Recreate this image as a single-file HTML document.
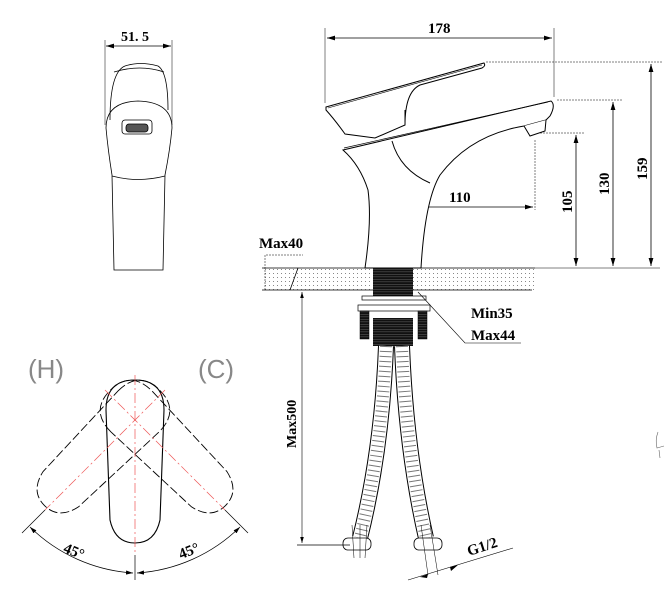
<!DOCTYPE html>
<html><head><meta charset="utf-8"><style>
html,body{margin:0;padding:0;background:#fff;}
svg{display:block;}
text{font-family:"Liberation Serif","DejaVu Serif",serif;fill:#000;font-weight:bold;}
</style></head><body>
<svg width="666" height="604" viewBox="0 0 666 604" xmlns="http://www.w3.org/2000/svg">
<defs>
<marker id="a" viewBox="0 0 10 6" refX="10" refY="3" markerWidth="10" markerHeight="6" orient="auto-start-reverse"><path d="M0,0 L10,3 L0,6z" fill="#000"/></marker>
<pattern id="dots" width="4" height="4" patternUnits="userSpaceOnUse"><rect x="1" y="1" width="1" height="1" fill="#888"/></pattern>
<pattern id="thr" width="6" height="2.5" patternUnits="userSpaceOnUse"><rect width="6" height="2.5" fill="#111"/><rect y="1.6" width="6" height="0.5" fill="#666"/></pattern>
</defs>

<!-- FRONT VIEW -->
<g fill="none" stroke="#000" stroke-width="0.8">
<line x1="105" y1="40" x2="105" y2="125" stroke-width="0.5"/>
<line x1="172" y1="40" x2="172" y2="125" stroke-width="0.5"/>
<line x1="106" y1="46" x2="171" y2="46" marker-start="url(#a)" marker-end="url(#a)"/>
<path d="M110,120 Q110,72 125,66 Q140,61 158,66 Q168,72 168,110"/>
<path d="M114,72 Q140,64 164,72"/>
<path d="M106,128 Q106,102 138,101 Q172,102 172,128 Q170,150 165,175 L163,270 L114,270 L112,175 Q108,150 106,128z"/>
<path d="M112,176 Q138,183 165,176"/>
<rect x="122" y="120" width="30" height="14" rx="3"/>
<rect x="126" y="124" width="22" height="8" rx="3" fill="#555"/>
</g>
<text x="121" y="41" font-size="14">51. 5</text>

<!-- HANDLE ROTATION VIEW -->
<text x="28" y="378" font-size="26" font-family="Liberation Sans" style="fill:#888;font-weight:normal;font-family:'Liberation Sans',sans-serif">(H)</text>
<text x="198" y="378" font-size="26" style="fill:#888;font-weight:normal;font-family:'Liberation Sans',sans-serif">(C)</text>
<g fill="none" stroke="#000" stroke-width="1.1">
<path d="M106,410 Q106,380 135,380 Q164,380 164,410 L160,520 Q155,543 135,543 Q115,543 110,520z"/>
<g transform="rotate(-45 135 415)" stroke-dasharray="9,3" stroke-width="0.9"><path d="M106,410 Q106,380 135,380 Q164,380 164,410 L160,520 Q155,543 135,543 Q115,543 110,520z"/></g>
<g transform="rotate(45 135 415)" stroke-dasharray="9,3" stroke-width="0.9"><path d="M106,410 Q106,380 135,380 Q164,380 164,410 L160,520 Q155,543 135,543 Q115,543 110,520z"/></g>
</g>
<g stroke="#e55" stroke-width="0.7" stroke-dasharray="10,3,2,3">
<line x1="135" y1="375" x2="135" y2="555"/>
<line x1="105" y1="390" x2="225" y2="510"/>
<line x1="165" y1="390" x2="45" y2="510"/>
</g>
<g fill="none" stroke="#000" stroke-width="0.7">
<line x1="135" y1="555" x2="135" y2="580"/>
<line x1="45" y1="510" x2="22" y2="533"/>
<line x1="225" y1="510" x2="248" y2="533"/>
<path d="M30,527 A162,162 0 0 0 133,573" marker-start="url(#a)" marker-end="url(#a)"/>
<path d="M137,573 A162,162 0 0 0 240,527" marker-start="url(#a)" marker-end="url(#a)"/>
</g>
<text x="64" y="556" font-size="15" transform="rotate(22 74 550)">45°</text>
<text x="178" y="556" font-size="15" transform="rotate(-22 188 550)">45°</text>

<!-- SIDE VIEW -->
<g fill="none" stroke="#000" stroke-width="0.5">
<line x1="325" y1="28" x2="325" y2="103"/>
<line x1="554" y1="28" x2="554" y2="97"/>
<line x1="486" y1="62" x2="662" y2="62" stroke-dasharray="2,1"/>
<line x1="557" y1="100" x2="622" y2="100" stroke-dasharray="2,1"/>
<line x1="540" y1="133" x2="585" y2="133" stroke-dasharray="2,1"/>
<line x1="535" y1="140" x2="535" y2="210" stroke-dasharray="2,1"/>
<line x1="393" y1="198" x2="393" y2="268" stroke-dasharray="2,1"/>
<line x1="535" y1="268" x2="660" y2="268"/>
</g>
<g stroke="#000" stroke-width="0.8" fill="none">
<line x1="327" y1="38" x2="552" y2="38" marker-start="url(#a)" marker-end="url(#a)"/>
<line x1="651" y1="64" x2="651" y2="266" marker-start="url(#a)" marker-end="url(#a)"/>
<line x1="613" y1="102" x2="613" y2="266" marker-start="url(#a)" marker-end="url(#a)"/>
<line x1="576" y1="135" x2="576" y2="266" marker-start="url(#a)" marker-end="url(#a)"/>
<line x1="395" y1="207" x2="533" y2="207" marker-start="url(#a)" marker-end="url(#a)"/>
</g>
<text x="428" y="33" font-size="15">178</text>
<text x="449" y="202" font-size="15">110</text>
<text transform="translate(572,213) rotate(-90)" font-size="15">105</text>
<text transform="translate(609,195) rotate(-90)" font-size="15">130</text>
<text transform="translate(647,180) rotate(-90)" font-size="15">159</text>

<!-- faucet body -->
<g fill="#fff" stroke="#000" stroke-width="1">
<path d="M343,150 L551,101 Q556,105 550,116 L546,120 L524,126 Q470,135 440,175 Q425,200 421,268 L365,268 Q372,220 368,190 Q360,165 343,150z"/>
<path d="M344,148 L548,102" stroke-width="0.7"/>
<path d="M392,141 Q400,170 430,183" fill="none"/>
<path d="M524,126 L530,136 L545,131 L546,120" />
<path d="M326,107 L484,63 Q486,66 482,68 L420,85 Q405,92 405,125 L375,138 L345,134 Q335,120 326,110z"/>
<path d="M328,108 L482,65" fill="none" stroke-width="0.6"/>
<path d="M405,110 L405,122" fill="none"/>
</g>

<!-- counter -->
<rect x="262" y="268" width="272" height="22" fill="url(#dots)"/>
<path d="M262,268 L535,268 M262,290 L300,290 M290,290 L298,268 M300,290 L532,290" stroke="#000" stroke-width="0.8" fill="none"/>
<path d="M265,290 L265,255 L303,255" stroke="#000" stroke-width="0.5" fill="none" stroke-dasharray="2,1"/>
<text x="259" y="248" font-size="15">Max40</text>

<!-- stem and nut -->
<rect x="373" y="268" width="40" height="32" fill="url(#thr)"/>
<rect x="362" y="296" width="64" height="4" fill="#fff" stroke="#000" stroke-width="0.7"/>
<rect x="358" y="305" width="72" height="6" fill="#fff" stroke="#000" stroke-width="0.7"/>
<rect x="360" y="311" width="9" height="28" fill="url(#thr)" stroke="#000" stroke-width="0.5"/>
<rect x="418" y="311" width="9" height="28" fill="url(#thr)" stroke="#000" stroke-width="0.5"/>
<rect x="373" y="318" width="40" height="28" fill="url(#thr)"/>

<!-- hoses -->
<g fill="none">
<path d="M386,346 Q382,450 360,538" stroke="#000" stroke-width="16"/>
<path d="M386,346 Q382,450 360,538" stroke="#fff" stroke-width="14"/>
<path d="M386,346 Q382,450 360,538" stroke="#777" stroke-width="12" stroke-dasharray="1,4"/>
<path d="M402,346 Q406,450 426,538" stroke="#000" stroke-width="16"/>
<path d="M402,346 Q406,450 426,538" stroke="#fff" stroke-width="14"/>
<path d="M402,346 Q406,450 426,538" stroke="#777" stroke-width="12" stroke-dasharray="1,4"/>
</g>
<g fill="#fff" stroke="#000" stroke-width="0.8">
<rect x="343" y="538" width="28" height="12" rx="5"/>
<rect x="414" y="538" width="28" height="12" rx="5"/>
</g>
<g stroke="#000" stroke-width="0.5" fill="none">
<line x1="352" y1="525" x2="354" y2="558"/><line x1="360" y1="525" x2="360" y2="558"/><line x1="367" y1="525" x2="365" y2="558"/>
<line x1="421" y1="525" x2="428" y2="575"/><line x1="430" y1="525" x2="438" y2="575"/>
</g>

<!-- Max500 -->
<line x1="302" y1="292" x2="302" y2="543" stroke="#000" stroke-width="0.6" marker-start="url(#a)" marker-end="url(#a)"/>
<line x1="297" y1="545" x2="350" y2="545" stroke="#000" stroke-width="0.7"/>
<text transform="translate(296,448) rotate(-90)" font-size="14">Max500</text>

<!-- Min/Max leader -->
<path d="M418,292 L465,343 L521,343" stroke="#000" stroke-width="0.6" fill="none"/>
<text x="471" y="318" font-size="15">Min35</text>
<text x="471" y="340" font-size="15">Max44</text>

<!-- G1/2 -->
<line x1="408" y1="580" x2="513" y2="548" stroke="#000" stroke-width="0.6"/>
<path d="M420,577 L428,574 L427,578z M458,565 L450,567 L451,571z" fill="#000"/>
<text transform="translate(469,556) rotate(-18)" font-size="15">G1/2</text>

<path d="M658,432 Q655,440 657,448 L664,446 M659,450 L660,458" stroke="#666" stroke-width="0.6" fill="none"/>
</svg>
</body></html>
